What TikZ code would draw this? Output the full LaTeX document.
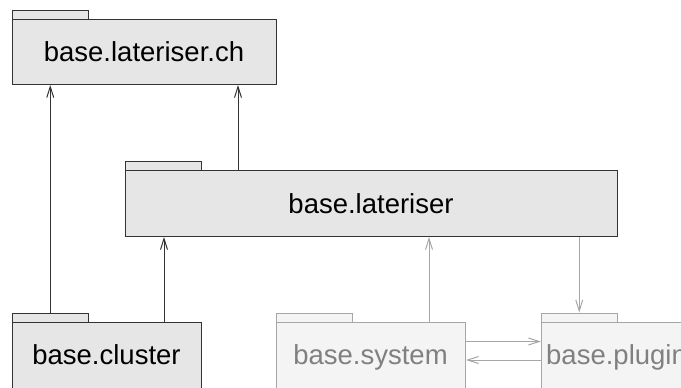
\documentclass[tikz,border=0pt]{standalone}
\usepackage{fontspec}
\setmainfont{Liberation Sans}
\usetikzlibrary{arrows.meta}
\definecolor{dkfill}{HTML}{E6E6E6}
\definecolor{dkline}{HTML}{333333}
\definecolor{ltfill}{HTML}{F4F4F4}
\definecolor{ltline}{HTML}{A6A6A6}
\definecolor{lttext}{HTML}{808080}
\tikzset{
  pkgbody/.style={rectangle, draw=dkline, fill=dkfill, line width=1pt, inner sep=0pt,
    font=\fontsize{27.5}{32}\selectfont, text height=20pt, text depth=0pt},
  pkgtab/.style={rectangle, draw=dkline, fill=dkfill, line width=1pt, inner sep=0pt,
    minimum width=75.5pt, minimum height=9.5pt},
  ltbody/.style={pkgbody, draw=ltline, fill=ltfill, text=lttext},
  lttab/.style={pkgtab, draw=ltline, fill=ltfill},
  dep/.style={line width=1pt, draw=dkline, -{Straight Barb[length=11pt,width=7pt]}},
  ltdep/.style={dep, draw=ltline},
}
\begin{document}
\begin{tikzpicture}[x=1pt,y=-1pt]
\useasboundingbox (0,0) rectangle (681,388);
\clip (0,0) rectangle (681,388);
% base.lateriser.ch
\node[pkgtab, anchor=north west] (chtab) at (12,9.5) {};
\node[pkgbody, anchor=north west, minimum width=264pt, minimum height=65pt] (ch) at (12,19) {};
\node[font=\fontsize{27.5}{32}\selectfont, anchor=base] (chtxt) at (144,61.5) {base.lateriser.ch};
% base.lateriser
\node[pkgtab, anchor=north west] (lattab) at (125,160.5) {};
\node[pkgbody, anchor=north west, minimum width=492pt, minimum height=66pt] (lat) at (125,170) {};
\node[font=\fontsize{27.5}{32}\selectfont, anchor=base] (lattxt) at (371,213) {base.lateriser};
% base.cluster
\node[pkgtab, anchor=north west] (cltab) at (12,312.5) {};
\node[pkgbody, anchor=north west, minimum width=189pt, minimum height=66pt] (cl) at (12,321.5) {};
\node[font=\fontsize{27.5}{32}\selectfont, anchor=base] (cltxt) at (106.5,364) {base.cluster};
% base.system
\node[lttab, anchor=north west] (systab) at (276,312.5) {};
\node[ltbody, anchor=north west, minimum width=189pt, minimum height=66pt] (sys) at (276,321.5) {};
\node[font=\fontsize{27.5}{32}\selectfont, text=lttext, anchor=base] (systxt) at (370.5,364) {base.system};
% base.plugin
\node[lttab, anchor=north west] (pltab) at (541,312.5) {};
\node[ltbody, anchor=north west, minimum width=200pt, minimum height=66pt] (pl) at (541,321.5) {};
\node[font=\fontsize{27.5}{32}\selectfont, text=lttext, anchor=base west, inner sep=0pt] (pltxt) at (546,364) {base.plugin};
% dependencies
\draw[dep] (cltab.north) -- (cltab.north |- ch.south);
\coordinate (a1) at ([xshift=113pt]lat.north west);
\draw[dep] (a1) -- (a1 |- ch.south);
\coordinate (a2) at ([xshift=-38pt]cl.north east);
\draw[dep] (a2) -- (a2 |- lat.south);
\coordinate (a3) at ([xshift=-37pt]sys.north east);
\draw[ltdep] (a3) -- (a3 |- lat.south);
\draw[ltdep] (pltab.north |- lat.south) -- (pltab.north);
\coordinate (a4) at ([yshift=13.5pt]sys.east);
\draw[ltdep] (a4) -- (a4 -| pl.west);
\coordinate (a5) at ([yshift=-5pt]pl.west);
\draw[ltdep] (a5) -- (a5 -| sys.east);
\end{tikzpicture}
\end{document}
